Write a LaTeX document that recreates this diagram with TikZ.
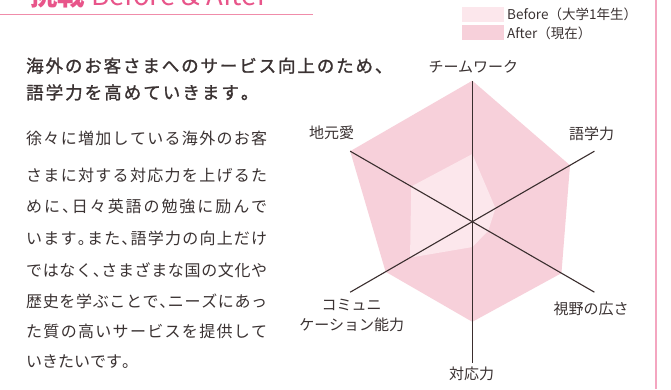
\documentclass[tikz,border=0pt]{standalone}
\usepackage{fontspec}
\setmainfont{Noto Sans CJK JP}
\newfontfamily\headfont[FakeBold=1.3]{Noto Sans CJK JP}
\usetikzlibrary{calc}
\definecolor{afterpink}{HTML}{F7D0DA}
\definecolor{beforepink}{HTML}{FCE7EC}
\definecolor{titlepink}{HTML}{E8558A}
\definecolor{linepink}{HTML}{F08CAA}
\definecolor{framepink}{HTML}{F4A6C0}
\definecolor{txt}{HTML}{3A3232}
\definecolor{axiscol}{HTML}{3A2E2E}
\newcommand\jchar[1]{\ifx#1、\makebox[0.5em][l]{#1}\else\ifx#1。\makebox[0.5em][l]{#1}\else#1\fi\fi}
\def\jspread#1{\jspreadA#1\relax}
\def\jspreadA#1{\jchar{#1}\jspreadB}
\def\jspreadB#1{\ifx#1\relax\else\hfil\jchar{#1}\expandafter\jspreadB\fi}
\tikzset{
  lbl/.style={font=\fontsize{15}{20}\selectfont, text=txt, inner sep=0pt, align=center},
  bodytxt/.style={font=\fontsize{16}{19}\selectfont, text=txt, inner sep=0pt, anchor=west},
  headtxt/.style={font=\headfont\fontsize{17.5}{20}\selectfont, text=txt, inner sep=0pt, anchor=west},
  legtxt/.style={font=\fontsize{13.5}{16}\selectfont, text=txt, inner sep=0pt, anchor=west},
  axisline/.style={draw=axiscol, line width=1.1pt},
}
\begin{document}
\begin{tikzpicture}[x=1pt,y=1pt]
\useasboundingbox (0,0) rectangle (671,389);
\fill[white] (0,0) rectangle (671,389);
% title
\node[anchor=base west, inner sep=0pt, text=titlepink, font=\fontsize{27.5}{30}\selectfont] (title) at (30,383) {{\bfseries 挑戦} Before \& After};
\coordinate (ul1) at (0,374.3);
\coordinate (ul2) at (313,374.3);
\draw[linepink, line width=1.5pt] (ul1) -- (ul2);
% right frame line
\coordinate (fr1) at (655.7,0);
\coordinate (fr2) at (655.7,389);
\draw[framepink, line width=2pt] (fr1) -- (fr2);
% legend
\fill[beforepink] (461.7,367.3) rectangle (504,382.3);
\fill[afterpink] (461.7,349) rectangle (504,364);
\node[legtxt] (lb) at (507,375) {Before（大学1年生）};
\node[legtxt] (la) at (507,355.7) {After（現在）};
% heading
\node[headtxt] (h1) at (26,323.3) {\hbox to 357.5pt{\jspread{海外のお客さまへのサービス向上のため、}}};
\node[headtxt] (h2) at (26,296.6) {\hbox to 223.5pt{\jspread{語学力を高めていきます。}}};
% body
\node[bodytxt] (b1) at (26,250.7) {\hbox to 241pt{\jspread{徐々に増加している海外のお客}}};
\node[bodytxt] (b2) at (26,214) {\hbox to 241pt{\jspread{さまに対する対応力を上げるた}}};
\node[bodytxt] (b3) at (26,182.3) {\hbox to 241pt{\jspread{めに、日々英語の勉強に励んで}}};
\node[bodytxt] (b4) at (26,150.7) {\hbox to 241pt{\jspread{います。また、語学力の向上だけ}}};
\node[bodytxt] (b5) at (26,119) {\hbox to 241pt{\jspread{ではなく、さまざまな国の文化や}}};
\node[bodytxt] (b6) at (26,87.3) {\hbox to 241pt{\jspread{歴史を学ぶことで、ニーズにあっ}}};
\node[bodytxt] (b7) at (26,57.3) {\hbox to 241pt{\jspread{た質の高いサービスを提供して}}};
\node[bodytxt] (b8) at (26,27) {\jspread{いきたいです。}};
% radar
\coordinate (c) at (472.3,167.3);
\foreach \i/\a in {1/90,2/30,3/-30,4/-90,5/210,6/150}
  \coordinate (a\i) at ($(c)+(\a:141)$);
\fill[afterpink] ($(c)+(90:141)$) -- ($(c)+(30:{0.80*141})$) -- ($(c)+(-30:{0.73*141})$)
  -- ($(c)+(-90:{0.71*141})$) -- ($(c)+(210:{0.71*141})$) -- ($(c)+(150:141)$) -- cycle;
\fill[beforepink] ($(c)+(90:{0.48*141})$) -- ($(c)+(30:{0.19*141})$) -- ($(c)+(-30:{0.13*141})$)
  -- ($(c)+(-90:{0.18*141})$) -- ($(c)+(210:{0.51*141})$) -- ($(c)+(150:{0.5*141})$) -- cycle;
\foreach \i in {1,...,6} \draw[axisline] (c) -- (a\i);
% labels
\node[lbl] (l1) at (473.3,322.3) {チームワーク};
\node[lbl] (l2) at (591.7,255.7) {語学力};
\node[lbl] (l3) at (591,79.7) {視野の広さ};
\node[lbl] (l4) at (471.7,15) {対応力};
\node[lbl] (l5a) at (351.7,84) {コミュニ};
\node[lbl] (l5b) at (351.7,64) {ケーション能力};
\node[lbl] (l6) at (331.7,255.7) {地元愛};
\end{tikzpicture}
\end{document}
